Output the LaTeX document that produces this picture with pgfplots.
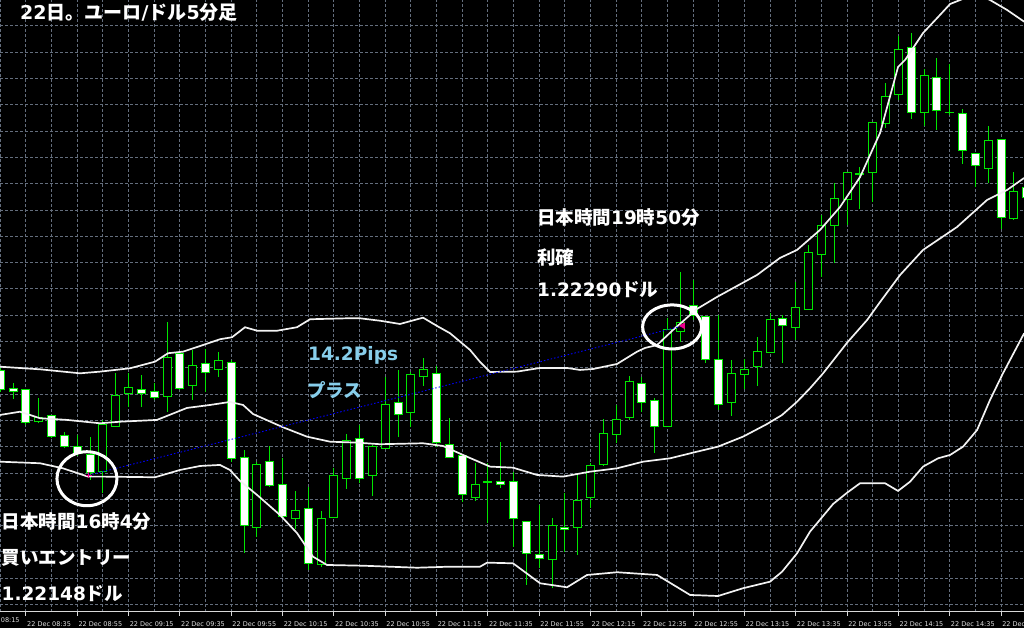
\documentclass[border=0pt]{standalone}
\usepackage{fontspec}
\setmainfont{DejaVu Sans}
\newfontfamily\jp{Noto Sans CJK JP}
\usepackage{pgfplots}
\usepackage{pgfplotstable}
\pgfplotsset{compat=1.18}
\definecolor{cgreen}{RGB}{0,230,0}
\definecolor{gridc}{RGB}{100,110,125}
\definecolor{skyb}{RGB}{135,206,235}

% EUR/USD 5-minute candles, prices in points above 1.22000
\pgfplotstableread{
k o h l c
0 247.3 249.9 227.1 229.0
1 229.9 235.6 220.4 227.1
2 229.0 229.9 195.7 198.5
3 198.8 221.4 197.6 202.6
4 204.3 205.2 183.3 184.6
5 185.5 189.3 173.8 175.1
6 175.7 186.2 166.2 168.1
7 167.2 184.6 143.4 150.7
8 151.3 200.5 130.8 195.7
9 194.7 245.1 193.8 223.3
10 225.2 245.1 213.1 230.9
11 229.0 243.2 213.1 225.2
12 227.1 235.6 219.5 221.4
13 222.3 293.6 208.3 260.3
14 263.2 265.1 229.0 230.6
15 233.1 267.0 219.5 251.8
16 253.7 267.9 227.4 245.4
17 248.0 265.1 241.6 256.8
18 254.9 257.5 160.5 164.0
19 164.6 171.9 73.7 100.6
20 98.5 160.5 89.5 158.3
21 160.5 175.7 137.0 138.0
22 138.7 164.0 107.9 108.5
23 107.0 133.0 96.6 114.2
24 116.5 136.5 57.9 63.6
25 62.6 113.9 61.0 107.0
26 107.9 154.5 107.3 147.2
27 145.0 186.9 134.9 180.5
28 182.7 195.7 140.3 145.0
29 147.2 176.7 128.5 175.1
30 173.6 241.6 172.9 214.7
31 217.3 248.0 184.6 205.2
32 207.4 246.4 194.1 243.2
33 241.6 259.1 232.8 248.0
34 244.8 251.8 174.8 179.3
35 177.4 202.1 164.3 165.0
36 166.2 167.2 122.8 129.2
37 126.6 159.3 123.5 139.3
38 140.9 159.6 102.8 141.5
39 141.8 179.3 136.1 139.3
40 142.2 150.7 80.0 107.0
41 103.8 104.4 43.6 73.7
42 72.1 119.6 59.5 69.0
43 67.4 107.0 40.5 100.4
44 98.1 131.3 75.3 96.6
45 98.5 148.2 72.1 123.7
46 126.6 159.9 116.5 156.7
47 158.3 201.1 156.7 187.8
48 186.9 214.7 178.3 201.1
49 203.0 242.3 200.5 236.9
50 235.3 241.0 208.3 217.3
51 218.8 221.1 169.4 194.1
52 194.7 297.4 193.8 286.0
53 284.4 341.4 274.9 292.7
54 309.1 333.5 295.5 299.3
55 298.6 299.3 254.4 257.5
56 257.5 300.3 210.0 214.7
57 216.9 257.5 204.5 244.8
58 243.2 258.2 229.6 248.6
59 251.5 279.6 233.2 266.0
60 264.8 301.9 264.1 295.5
61 297.1 300.3 254.4 289.8
62 288.6 331.9 276.5 307.6
63 305.7 366.8 305.0 359.5
64 358.0 395.3 336.1 385.2
65 385.2 425.5 350.0 411.2
66 410.3 436.5 385.8 435.5
67 434.0 441.2 400.7 434.3
68 435.5 483.7 408.0 483.1
69 482.5 520.5 477.7 508.4
70 510.3 565.5 504.6 552.2
71 554.7 568.0 486.3 492.6
72 493.0 533.8 479.9 527.5
73 525.8 544.9 476.1 495.1
74 493.2 538.9 490.4 493.0
75 492.0 495.8 443.5 456.2
76 454.0 454.3 422.2 442.2
77 439.7 479.9 426.0 465.9
78 467.3 467.6 381.7 392.8
79 392.2 435.9 390.6 417.5
80 421.0 421.5 410.0 412.4
}\candles

\pgfplotsset{base/.style={at={(0pt,16pt)}, anchor=south west, scale only axis,
  width=1024pt, height=612pt, xmin=-0.0265, xmax=79.79, ymin=17.9, ymax=599.7}}

\begin{document}
\begin{tikzpicture}[x=1pt,y=1pt]
\fill[black] (0,0) rectangle (1024,628);
\path[use as bounding box] (0,0) rectangle (1024,628);

% grid, time axis and wicks
\begin{axis}[base,
  axis line style={draw=none},
  xtick={2,6,...,78},
  minor xtick={0,4,...,76},
  xticklabels={22 Dec 08:35,22 Dec 08:55,22 Dec 09:15,22 Dec 09:35,22 Dec 09:55,22 Dec 10:15,22 Dec 10:35,22 Dec 10:55,22 Dec 11:15,22 Dec 11:35,22 Dec 11:55,22 Dec 12:15,22 Dec 12:35,22 Dec 12:55,22 Dec 13:15,22 Dec 13:35,22 Dec 13:55,22 Dec 14:15,22 Dec 14:35,22 Dec 14:55},
  ytick={25,50,...,575}, yticklabels={},
  grid=both,
  major grid style={gridc, line width=1pt, dash pattern=on 3pt off 2pt},
  minor grid style={gridc, line width=1pt, dash pattern=on 3pt off 2pt},
  xtick pos=left, tick align=outside, major tick length=4pt, minor tick length=0pt,
  xtick style={draw=white!85!black, line width=1pt},
  ytick style={draw=none},
  xticklabel style={anchor=west, font=\fontsize{6.5}{7}\selectfont, text=white!88!black, inner sep=0pt, xshift=1pt, yshift=-8pt},
]
\addplot[draw=none, mark=none, error bars/.cd, y dir=both, y explicit, error mark=none,
  error bar style={draw=cgreen, line width=1pt}]
  table[x=k, y expr={(\thisrow{h}+\thisrow{l})/2}, y error expr={(\thisrow{h}-\thisrow{l})/2}] {\candles};
\end{axis}

% candle bodies
\begin{axis}[base, hide axis, ybar stacked, bar width=8pt]
\addplot[draw=none, fill=none] table[x=k, y expr={min(\thisrow{o},\thisrow{c})}] {\candles};
\addplot[draw=cgreen, fill=white, line width=1pt] table[x=k, y expr={max(\thisrow{o}-\thisrow{c},0)}] {\candles};
\addplot[draw=cgreen, fill=black, line width=1pt] table[x=k, y expr={max(\thisrow{c}-\thisrow{o},0)}] {\candles};
\end{axis}

% Bollinger bands, trade line, markers
\begin{axis}[base, hide axis]
\addplot[white!95!black, line width=1.7pt] coordinates {(-0.03,251.1) (3.09,248.6) (6.21,244.8) (7.77,246.4) (10.11,249.6) (12.06,255.9) (13.07,263.9) (14.24,265.4) (15.80,271.7) (17.12,277.2) (18.06,279.1) (19.07,288.6) (20.01,285.3) (21.57,285.3) (23.12,288.6) (24.14,296.2) (27.02,297.1) (28.04,297.1) (29.59,294.8) (31.15,291.7) (32.95,297.7) (34.04,289.8) (35.05,282.9) (36.61,267.0) (37.39,255.6) (38.17,246.1) (40.27,246.4) (42.07,249.9) (44.17,249.9) (45.18,248.0) (46.20,248.9) (48.07,253.7) (49.63,265.4) (50.25,268.9) (51.19,271.7) (52.43,286.0) (54.30,306.0) (55.86,317.4) (58.98,338.3) (60.77,354.5) (62.10,362.1) (63.89,381.1) (65.45,402.9) (67.01,431.4) (68.57,473.3) (69.97,536.0) (70.52,542.7) (71.92,568.3) (73.09,583.5) (74.03,595.9) (74.81,599.7) (75.98,605.4) (77.14,599.7) (78.47,590.2) (79.80,579.1)};
\addplot[white!95!black, line width=1.7pt] coordinates {(-0.03,205.2) (1.53,208.3) (3.09,202.1) (5.20,200.5) (7.77,197.3) (9.33,198.8) (12.21,200.5) (14.55,211.9) (16.34,214.7) (17.90,217.6) (18.92,214.7) (19.70,206.1) (22.03,193.5) (23.90,184.6) (25.70,179.8) (27.80,178.9) (29.59,177.4) (32.95,178.3) (34.51,175.7) (36.06,167.2) (38.17,156.1) (39.96,155.1) (41.83,148.2) (43.86,146.6) (45.96,151.3) (48.07,154.5) (50.10,160.8) (52.20,164.0) (54.30,170.3) (55.94,175.1) (57.89,184.6) (59.76,196.6) (60.93,205.2) (62.10,217.8) (63.11,230.6) (64.13,244.8) (66.00,273.9) (67.56,295.5) (68.57,312.6) (70.13,338.3) (71.92,362.1) (74.57,383.9) (76.91,409.6) (78.47,419.1) (79.80,430.5)};
\addplot[white!95!black, line width=1.7pt] coordinates {(-0.03,160.8) (3.09,159.3) (4.88,154.5) (6.83,146.6) (8.00,146.6) (12.06,146.0) (14.00,152.9) (15.56,156.7) (17.12,157.7) (17.90,152.9) (18.68,142.5) (20.01,129.2) (21.80,110.1) (23.12,93.0) (24.37,70.5) (25.46,62.6) (28.27,61.9) (32.48,60.0) (35.05,61.0) (37.39,61.0) (37.94,64.8) (39.96,64.2) (42.07,45.2) (44.17,41.4) (45.73,53.1) (48.07,55.7) (51.19,53.1) (53.76,34.1) (55.94,33.1) (57.89,40.5) (59.99,46.7) (60.93,56.2) (62.10,73.7) (63.11,94.3) (64.91,120.6) (66.00,131.3) (67.01,140.3) (68.96,140.3) (69.97,133.0) (70.91,141.8) (71.92,156.1) (73.09,164.0) (74.03,167.2) (75.04,175.1) (76.13,190.9) (77.14,219.5) (78.15,244.8) (79.80,282.9)};
\addplot[blue, line width=0.9pt, dash pattern=on 1.5pt off 2pt] coordinates {(6.91,148) (53.21,290)};
\addplot[only marks, magenta, mark=+, mark size=3pt, line width=1pt] coordinates {(6.91,148)};
\addplot[only marks, magenta, mark=triangle*, mark size=3.5pt, mark options={rotate=90}] coordinates {(53.21,290)};
\draw[white, line width=3pt] (axis cs:6.75,144.6) ellipse [x radius=30pt, y radius=27pt];
\draw[white, line width=3pt] (axis cs:52.36,288.9) ellipse [x radius=29.5pt, y radius=22pt];
\end{axis}

\draw[white!85!black, line width=1pt] (0,16) -- (1024,16);
\node[anchor=west, font=\fontsize{6.5}{7}\selectfont, text=white!88!black, inner sep=0pt] at (-24.3,8) {22 Dec 08:15};

% annotations
\begin{scope}[every node/.style={anchor=west, inner sep=0pt, text=white, font=\fontsize{18.5}{20}\selectfont\bfseries}]
\node[font=\fontsize{19}{21}\selectfont\bfseries] at (20,615.3) {22{\jp 日。ユーロ}/{\jp ドル}5{\jp 分足}};
\node at (537,410) {{\jp 日本時間}19{\jp 時}50{\jp 分}};
\node at (537,371) {{\jp 利確}};
\node at (537,338) {1.22290{\jp ドル}};
\node[text=skyb] at (308,272.3) {14.2Pips};
\node[text=skyb] at (307,238) {{\jp プラス}};
\node at (1.5,106.3) {{\jp 日本時間}16{\jp 時}4{\jp 分}};
\node at (1.5,69.7) {{\jp 買いエントリー}};
\node at (1.5,34.5) {1.22148{\jp ドル}};
\end{scope}
\end{tikzpicture}
\end{document}
